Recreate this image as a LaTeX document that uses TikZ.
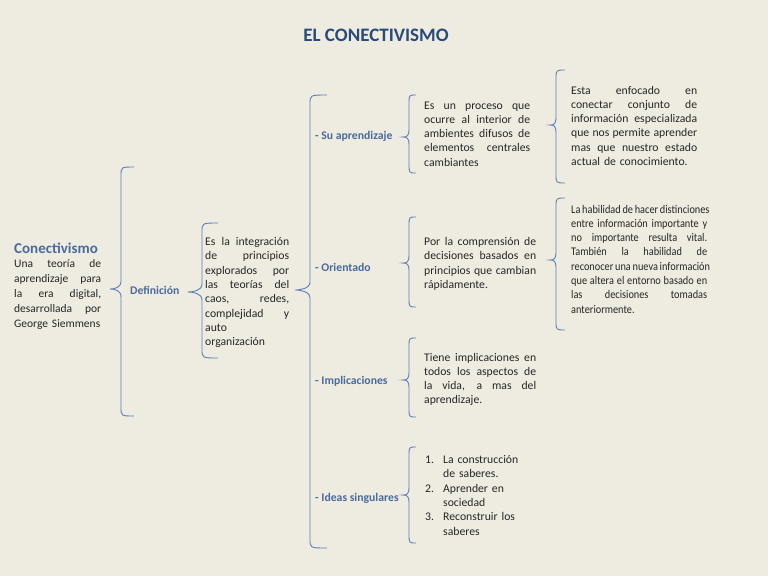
\documentclass[tikz,border=0pt]{standalone}
\usepackage{fontspec}
\setmainfont{Carlito}
\newfontfamily\narrowfont[FakeStretch=0.88]{Carlito}
\definecolor{bg}{HTML}{EEECE1}
\definecolor{ttl}{HTML}{2A4A7C}
\definecolor{lbl}{HTML}{4A6A9C}
\definecolor{brc}{HTML}{5A7EB5}
\definecolor{txt}{HTML}{262626}
\newcommand{\jl}[1]{\leavevmode\hbox to \hsize{\spaceskip=0.25em plus 3em minus 0.1em #1}\\}
% tipx spinex endx top tipy bot
\newcommand{\cbr}[6]{%
  \draw[braceline] (#3,#4) .. controls (#2,#4) .. (#2,#4+9)
    -- (#2,#5-8) .. controls (#2,#5-1) and (#1+4,#5) .. (#1,#5)
    .. controls (#1+4,#5) and (#2,#5+1) .. (#2,#5+8)
    -- (#2,#6-9) .. controls (#2,#6) .. (#3,#6);}
\tikzset{
  braceline/.style={draw=brc, line width=0.9pt},
  body/.style={anchor=base west, inner sep=0pt, align=left, text=txt,
    font=\fontsize{11.7}{14.3}\selectfont},
  lab/.style={anchor=base west, inner sep=0pt, text=lbl,
    font=\fontsize{11.7}{13}\selectfont\bfseries},
}
\begin{document}
\begin{tikzpicture}[x=1pt,y=-1pt]
\useasboundingbox[fill=bg] (0,0) rectangle (768,576);

\node[anchor=base, inner sep=0pt, text=ttl, font=\fontsize{19}{21}\selectfont\bfseries] (title) at (376,41) {EL CONECTIVISMO};

\node[anchor=base west, inner sep=0pt, text=lbl, font=\fontsize{15}{17}\selectfont\bfseries] (conect) at (14,253.5) {Conectivismo};
\node[body, text width=87, font=\fontsize{11.5}{15}\selectfont] (conectbody) at (14,267) {%
\jl{Una teoría de}\jl{aprendizaje para}\jl{la era digital,}\jl{desarrollada por}\mbox{George Siemmens}};

\cbr{110}{121}{134}{167}{289}{416}

\node[lab] (def) at (130,294.5) {Definición};

\cbr{188}{202}{218}{223}{292}{358}

\node[body, text width=84] (deftext) at (205,245.5) {%
\jl{Es la integración}\jl{de principios}\jl{explorados por}\jl{las teorías del}\jl{caos, redes,}\jl{complejidad y}auto\\organización};

\cbr{295}{310}{327}{95}{290}{548}

\node[lab] (sa) at (315,139.5) {- Su aprendizaje};
\node[lab] (ori) at (315,271.5) {- Orientado};
\node[lab] (imp) at (315,384) {- Implicaciones};
\node[lab] (ide) at (315,501) {- Ideas singulares};

\cbr{403}{409}{416}{95}{137}{173}
\cbr{403}{409}{416}{217}{263}{307}
\cbr{403}{409}{416}{338}{380}{417}
\cbr{403}{409}{416}{447}{495}{543}

\node[body, text width=106] (satext) at (424,109) {%
\jl{Es un proceso que}\jl{ocurre al interior de}\jl{ambientes difusos de}\jl{elementos centrales}cambiantes};

\node[body, text width=112] (oritext) at (424,245.5) {%
\jl{Por la comprensión de}\jl{decisiones basados en}\jl{principios que cambian}rápidamente.};

\node[body, text width=112] (imptext) at (424,361) {%
\jl{Tiene implicaciones en}\jl{todos los aspectos de}\jl{la vida, a mas del}aprendizaje.};

\node[body, text width=110] (idetext) at (425,463.5) {%
\makebox[18pt][l]{1.}La construcción\\\hspace*{18pt}de saberes.\\
\makebox[18pt][l]{2.}Aprender en\\\hspace*{18pt}sociedad\\
\makebox[18pt][l]{3.}Reconstruir los\\\hspace*{18pt}saberes};

\cbr{550}{556}{565}{70}{125}{183}
\cbr{550}{556}{565}{198}{260}{330}

\node[body, text width=126] (r1text) at (571,94) {%
\jl{Esta enfocado en}\jl{conectar conjunto de}\jl{información especializada}\jl{que nos permite aprender}\jl{mas que nuestro estado}actual de conocimiento.};

\node[body, text width=136, font=\narrowfont\fontsize{11.7}{14.3}\selectfont] (r2text) at (571,213) {%
\jl{La habilidad de hacer distinciones}\jl{entre información importante y}\jl{no importante resulta vital.}\jl{También la habilidad de}\jl{reconocer una nueva información}\jl{que altera el entorno basado en}\jl{las decisiones tomadas}anteriormente.};

\end{tikzpicture}
\end{document}
